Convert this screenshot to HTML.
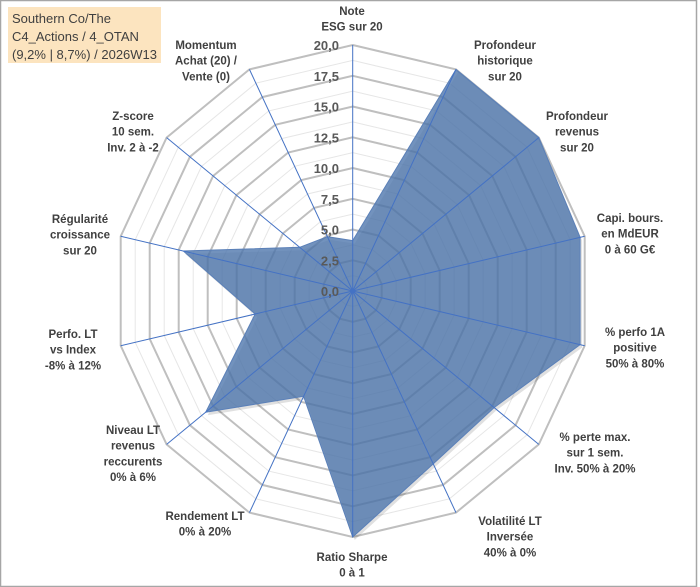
<!DOCTYPE html>
<html><head><meta charset="utf-8"><style>
html,body{margin:0;padding:0;background:#fff;}
svg{display:block;font-family:"Liberation Sans",sans-serif;}
.lbl{font-size:11.5px;font-weight:bold;fill:#404040;}
.tick{font-size:13px;font-weight:bold;fill:#595959;}
</style></head><body>
<svg id="chart" width="700" height="587" viewBox="0 0 700 587">
<rect x="0.5" y="0.5" width="696" height="586" fill="#fff" stroke="#a6a6a6" stroke-width="1.5"/>
<g id="grid"></g>
<g id="series"></g>
<g id="axes"></g>
<g id="ticks"></g>
<g id="labels"></g>
<rect x="8" y="7" width="153" height="56" fill="#fce4bf"/>
<text x="12" y="23" font-size="13" fill="#404040">Southern Co/The</text>
<text x="12" y="41" font-size="13" fill="#404040">C4_Actions / 4_OTAN</text>
<text x="12" y="59" font-size="13" fill="#404040">(9,2% | 8,7%) / 2026W13</text>
</svg>
<script>
const categories = [
 ["Note","ESG sur 20"],
 ["Profondeur","historique","sur 20"],
 ["Profondeur","revenus","sur 20"],
 ["Capi. bours.","en MdEUR","0 à 60 G€"],
 ["% perfo 1A","positive","50% à 80%"],
 ["% perte max.","sur 1 sem.","Inv. 50% à 20%"],
 ["Volatilité LT","Inversée","40% à 0%"],
 ["Ratio Sharpe","0 à 1"],
 ["Rendement LT","0% à 20%"],
 ["Niveau LT","revenus","reccurents","0% à 6%"],
 ["Perfo. LT","vs Index","-8% à 12%"],
 ["Régularité","croissance","sur 20"],
 ["Z-score","10 sem.","Inv. 2 à -2"],
 ["Momentum","Achat (20) /","Vente (0)"]
];
const values = [4.1, 20, 20, 19.6, 19.6, 15.2, 15.6, 20, 9.5, 15.8, 8.4, 14.6, 5.7, 4.9];
const tickValues = [0, 2.5, 5, 7.5, 10, 12.5, 15, 17.5, 20];
const tickLabels = ["0,0","2,5","5,0","7,5","10,0","12,5","15,0","17,5","20,0"];
const labelPos = [[352,11],[505,45],[577,116],[630,218],[635,332],[595,437],[510,521],[352,557],[205,516],[133,430],[73,334],[80,219],[133,116],[206,45]];

const NS="http://www.w3.org/2000/svg";
const cx=352.7, cy=291, rx=238, ry=246, vmax=20, n=categories.length;
function ang(i){return i*2*Math.PI/n;}
function px(i,v){return cx+Math.sin(ang(i))*rx*v/vmax;}
function py(i,v){return cy-Math.cos(ang(i))*ry*v/vmax;}
function mk(tag,attrs,parent){const e=document.createElementNS(NS,tag);for(const k in attrs)e.setAttribute(k,attrs[k]);parent.appendChild(e);return e;}
function ring(v){let p=[];for(let i=0;i<n;i++)p.push(px(i,v).toFixed(1)+","+py(i,v).toFixed(1));return p.join(" ");}

const grid=document.getElementById("grid");
for(let k=0;k<tickValues.length-1;k++){
  const v=(tickValues[k]+tickValues[k+1])/2;
  const r=mk("polygon",{points:ring(v),fill:"none",stroke:"#e6e6e6","stroke-width":1},grid);
  
  
}
tickValues.forEach(v=>{ if(v===0) return;
  const r=mk("polygon",{points:ring(v),fill:"none",stroke:"#bfbfbf","stroke-width":2},grid);
  
  
});

const ser=document.getElementById("series");
let pts=values.map((v,i)=>px(i,v).toFixed(1)+","+py(i,v).toFixed(1)).join(" ");
const sh=mk("polygon",{points:pts,fill:"#000","fill-opacity":0.12,transform:"translate(2,3)"},ser);


const poly=mk("polygon",{points:pts,fill:"#4f77ad","fill-opacity":0.8,stroke:"#5b80b8","stroke-width":1},ser);



const axes=document.getElementById("axes");
for(let i=0;i<n;i++){
  const l=mk("line",{x1:cx,y1:cy,x2:px(i,vmax),y2:py(i,vmax),stroke:"#4472c4","stroke-width":1},axes);
  
  
}
mk("circle",{cx:cx,cy:cy,r:2.5,fill:"#4472c4"},axes);

const ticks=document.getElementById("ticks");
tickValues.forEach((v,k)=>{
  const t=mk("text",{x:339,y:py(0,v)+5,"text-anchor":"end",class:"tick"},ticks);
  t.textContent=tickLabels[k];
  
  
});

const labels=document.getElementById("labels");
categories.forEach((lines,i)=>{
  const t=mk("text",{class:"lbl","text-anchor":"middle"},labels);
  
  
  lines.forEach((s,j)=>{
    const ts=mk("tspan",{x:labelPos[i][0],y:labelPos[i][1]+4+j*15.7},t);
    ts.textContent=s;
  });
});
</script>
</body></html>
